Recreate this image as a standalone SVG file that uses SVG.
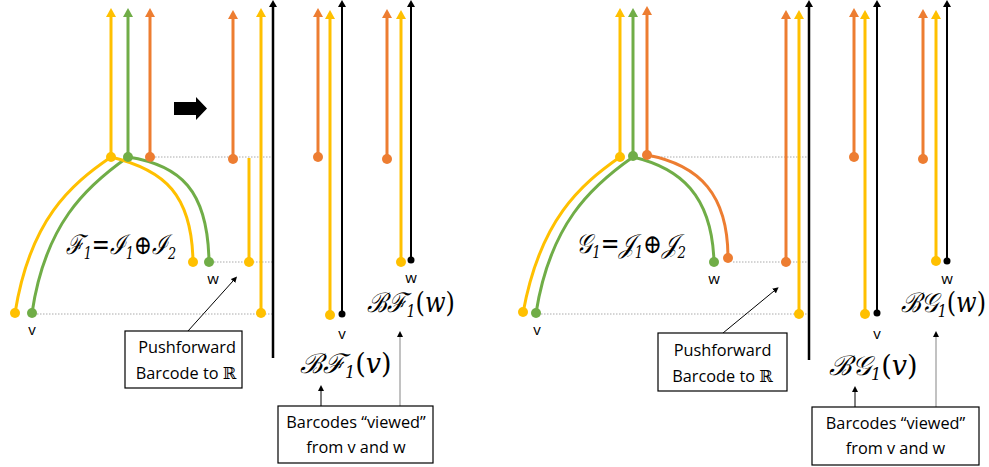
<svg xmlns="http://www.w3.org/2000/svg" width="989" height="467" viewBox="0 0 989 467">
<style>
.y{stroke:#FFC000;stroke-width:3;fill:none}
.g{stroke:#70AD47;stroke-width:3;fill:none}
.o{stroke:#ED7D31;stroke-width:3;fill:none}
.k{stroke:#000;stroke-width:2;fill:none}
.kk{stroke:#000;stroke-width:2.5;fill:none}
.dy{fill:#FFC000}.dg{fill:#70AD47}.do{fill:#ED7D31}.dk{fill:#000}
.dot{stroke:#aaa;stroke-width:1;stroke-dasharray:1.5 1.5;fill:none}
.lbl{font-family:"Open Sans","DejaVu Sans",sans-serif;font-size:15px;fill:#000;text-anchor:middle}
.box{fill:#fff;stroke:#000;stroke-width:1.2}
.bt{font-family:"Open Sans","DejaVu Sans",sans-serif;font-size:16.3px;fill:#000;text-anchor:middle}
.rr{font-family:"DejaVu Serif",serif}
.m{font-family:"DejaVu Serif","Liberation Serif",serif;font-style:italic;font-size:27px;fill:#000}
.sub{font-size:16px}
.cl{stroke:#000;stroke-width:1;fill:none}
.cg{stroke:#999;stroke-width:1.2;fill:none}
</style>
<defs>
<marker id="ay" viewBox="0 -5 9 10" refX="0" refY="0" markerWidth="9" markerHeight="10" markerUnits="userSpaceOnUse" orient="auto"><path d="M0,-5 L9,0 L0,5 z" fill="#FFC000"/></marker>
<marker id="ag" viewBox="0 -5 9 10" refX="0" refY="0" markerWidth="9" markerHeight="10" markerUnits="userSpaceOnUse" orient="auto"><path d="M0,-5 L9,0 L0,5 z" fill="#70AD47"/></marker>
<marker id="ao" viewBox="0 -5 9 10" refX="0" refY="0" markerWidth="9" markerHeight="10" markerUnits="userSpaceOnUse" orient="auto"><path d="M0,-5 L9,0 L0,5 z" fill="#ED7D31"/></marker>
<marker id="ak" viewBox="0 -4 7 8" refX="0" refY="0" markerWidth="7" markerHeight="8" markerUnits="userSpaceOnUse" orient="auto"><path d="M0,-4 L7,0 L0,4 z" fill="#000"/></marker>
<marker id="as" viewBox="0 -3 6 6" refX="0" refY="0" markerWidth="6" markerHeight="6" markerUnits="userSpaceOnUse" orient="auto"><path d="M0,-3 L6,0 L0,3 z" fill="#000"/></marker>
</defs>

<g id="guides">
<line class="dot" x1="155" y1="157" x2="273" y2="157"/>
<line class="dot" x1="214" y1="262" x2="273" y2="262"/>
<line class="dot" x1="37" y1="314" x2="273" y2="314"/>
<line class="dot" x1="652" y1="157" x2="809" y2="157"/>
<line class="dot" x1="733" y1="262" x2="809" y2="262"/>
<line class="dot" x1="541" y1="314" x2="809" y2="314"/>
</g>

<g id="left-tree">
<path class="y" d="M111,157 C70,185 30,220 15,313"/>
<path class="g" d="M128,157 C85,187 45,225 32,313"/>
<path class="y" d="M111,157 C165,170 192,195 193,262"/>
<path class="g" d="M128,157 C180,165 208,190 209,262"/>
<line class="y" x1="111" y1="157" x2="111" y2="17" marker-end="url(#ay)"/>
<line class="g" x1="128" y1="157" x2="128" y2="17" marker-end="url(#ag)"/>
<line class="o" x1="150" y1="157" x2="150" y2="17" marker-end="url(#ao)"/>
<circle class="dy" cx="111" cy="157" r="5"/>
<circle class="dg" cx="128" cy="157" r="5"/>
<circle class="do" cx="150" cy="157" r="5"/>
<circle class="dy" cx="15" cy="313" r="5"/>
<circle class="dg" cx="32" cy="313" r="5"/>
<circle class="dy" cx="193" cy="262" r="5"/>
<circle class="dg" cx="209" cy="262" r="5"/>
<text class="lbl" x="32" y="335">v</text>
<text class="lbl" x="213" y="284">w</text>
<text class="m" transform="translate(66,254) scale(0.8,1)" x="0" y="0">ℱ<tspan class="sub" dy="5">1</tspan><tspan dy="-5">=ℐ</tspan><tspan class="sub" dy="5">1</tspan><tspan dy="-5" font-style="normal">⊕</tspan><tspan>ℐ</tspan><tspan class="sub" dy="5">2</tspan></text>
</g>

<g id="block-arrow">
<path d="M174,102 L196,102 L196,97 L207,108.5 L196,120 L196,115 L174,115 z" fill="#000"/>
</g>

<g id="left-pushforward">
<line class="o" x1="233" y1="159" x2="233" y2="19" marker-end="url(#ao)"/>
<circle class="do" cx="233" cy="159" r="5"/>
<line class="y" x1="249" y1="158" x2="249" y2="262"/>
<circle class="dy" cx="249" cy="262" r="5"/>
<line class="y" x1="261" y1="313" x2="261" y2="17" marker-end="url(#ay)"/>
<circle class="dy" cx="261" cy="313" r="5"/>
<line class="kk" x1="273" y1="358" x2="273" y2="7" marker-end="url(#ak)"/>
</g>

<g id="left-bar-v">
<line class="o" x1="318" y1="157" x2="318" y2="17" marker-end="url(#ao)"/>
<circle class="do" cx="318" cy="157" r="5"/>
<line class="y" x1="330" y1="315" x2="330" y2="19" marker-end="url(#ay)"/>
<circle class="dy" cx="330" cy="315" r="5"/>
<line class="k" x1="342" y1="314" x2="342" y2="7" marker-end="url(#ak)"/>
<circle class="dk" cx="342" cy="314" r="3.5"/>
<text class="lbl" x="342" y="339">v</text>
<text class="m" x="300" y="373">ℬℱ<tspan class="sub" dy="5">1</tspan><tspan dy="-5" font-style="normal">(</tspan><tspan>v</tspan><tspan font-style="normal">)</tspan></text>
</g>

<g id="left-bar-w">
<line class="o" x1="387" y1="159" x2="387" y2="18" marker-end="url(#ao)"/>
<circle class="do" cx="387" cy="159" r="5"/>
<line class="y" x1="401" y1="262" x2="401" y2="19" marker-end="url(#ay)"/>
<circle class="dy" cx="401" cy="262" r="5"/>
<line class="k" x1="411" y1="260" x2="411" y2="7" marker-end="url(#ak)"/>
<circle class="dk" cx="411" cy="260" r="3.5"/>
<text class="lbl" x="411" y="283">w</text>
<text class="m" transform="translate(367,312) scale(0.89,1)" x="0" y="0">ℬℱ<tspan class="sub" dy="5">1</tspan><tspan dy="-5" font-style="normal">(</tspan><tspan>w</tspan><tspan font-style="normal">)</tspan></text>
</g>

<g id="right-tree">
<path class="y" d="M620,157 C580,185 540,220 523,313"/>
<path class="g" d="M633,157 C590,187 550,225 536,313"/>
<path class="g" d="M633,157 C680,168 712,195 714,262"/>
<path class="o" d="M647,155 C700,165 728,195 728,258"/>
<line class="y" x1="620" y1="157" x2="620" y2="17" marker-end="url(#ay)"/>
<line class="g" x1="633" y1="156" x2="633" y2="17" marker-end="url(#ag)"/>
<line class="o" x1="647" y1="155" x2="647" y2="15" marker-end="url(#ao)"/>
<circle class="dy" cx="620" cy="157" r="5"/>
<circle class="dg" cx="633" cy="156" r="5"/>
<circle class="do" cx="647" cy="155" r="5"/>
<circle class="dy" cx="523" cy="312" r="5"/>
<circle class="dg" cx="536" cy="313" r="5"/>
<circle class="dg" cx="714" cy="262" r="5"/>
<circle class="do" cx="728" cy="258" r="5"/>
<text class="lbl" x="537" y="335">v</text>
<text class="lbl" x="714" y="284">w</text>
<text class="m" transform="translate(576,253) scale(0.83,1)" x="0" y="0">𝒢<tspan class="sub" dy="5">1</tspan><tspan dy="-5">=𝒥</tspan><tspan class="sub" dy="5">1</tspan><tspan dy="-5" font-style="normal">⊕</tspan><tspan>𝒥</tspan><tspan class="sub" dy="5">2</tspan></text>
</g>

<g id="right-pushforward">
<line class="o" x1="786" y1="262" x2="786" y2="19" marker-end="url(#ao)"/>
<circle class="do" cx="786" cy="262" r="5"/>
<line class="y" x1="799" y1="314" x2="799" y2="19" marker-end="url(#ay)"/>
<circle class="dy" cx="799" cy="314" r="5"/>
<line class="kk" x1="809" y1="360" x2="809" y2="7" marker-end="url(#ak)"/>
</g>

<g id="right-bar-v">
<line class="o" x1="854" y1="157" x2="854" y2="17" marker-end="url(#ao)"/>
<circle class="do" cx="854" cy="157" r="5"/>
<line class="y" x1="865" y1="314" x2="865" y2="19" marker-end="url(#ay)"/>
<circle class="dy" cx="865" cy="314" r="5"/>
<line class="k" x1="877" y1="313" x2="877" y2="7" marker-end="url(#ak)"/>
<circle class="dk" cx="877" cy="313" r="3.5"/>
<text class="lbl" x="877" y="339">v</text>
<text class="m" x="829" y="375">ℬ𝒢<tspan class="sub" dy="5">1</tspan><tspan dy="-5" font-style="normal">(</tspan><tspan>v</tspan><tspan font-style="normal">)</tspan></text>
</g>

<g id="right-bar-w">
<line class="o" x1="923" y1="159" x2="923" y2="18" marker-end="url(#ao)"/>
<circle class="do" cx="923" cy="159" r="5"/>
<line class="y" x1="936" y1="261" x2="936" y2="19" marker-end="url(#ay)"/>
<circle class="dy" cx="936" cy="261" r="5"/>
<line class="k" x1="947" y1="261" x2="947" y2="7" marker-end="url(#ak)"/>
<circle class="dk" cx="947" cy="261" r="3.5"/>
<text class="lbl" x="947" y="284">w</text>
<text class="m" transform="translate(901,312) scale(0.89,1)" x="0" y="0">ℬ𝒢<tspan class="sub" dy="5">1</tspan><tspan dy="-5" font-style="normal">(</tspan><tspan>w</tspan><tspan font-style="normal">)</tspan></text>
</g>

<g id="callouts">
<line class="cl" x1="188" y1="331" x2="233" y2="281" marker-end="url(#as)"/>
<line class="cl" x1="321" y1="406" x2="321" y2="391" marker-end="url(#as)"/>
<line class="cg" x1="400" y1="406" x2="400" y2="337" marker-end="url(#as)"/>
<line class="cl" x1="723" y1="333" x2="774" y2="291" marker-end="url(#as)"/>
<line class="cl" x1="855" y1="407" x2="855" y2="392" marker-end="url(#as)"/>
<line class="cg" x1="936" y1="407" x2="936" y2="337" marker-end="url(#as)"/>
</g>

<g id="box-pushforward-left">
<rect class="box" x="125" y="331" width="117" height="57"/>
<text class="bt" x="187" y="353">Pushforward</text>
<text class="bt" x="186" y="379">Barcode to <tspan class="rr">ℝ</tspan></text>
</g>
<g id="box-viewed-left">
<rect class="box" x="278" y="406" width="155" height="57"/>
<text class="bt" x="356" y="428">Barcodes “viewed”</text>
<text class="bt" x="356" y="453">from v and w</text>
</g>
<g id="box-pushforward-right">
<rect class="box" x="658" y="333" width="129" height="58"/>
<text class="bt" x="722.5" y="356">Pushforward</text>
<text class="bt" x="722.5" y="382">Barcode to <tspan class="rr">ℝ</tspan></text>
</g>
<g id="box-viewed-right">
<rect class="box" x="812" y="407" width="167" height="58"/>
<text class="bt" x="895.5" y="429">Barcodes “viewed”</text>
<text class="bt" x="895.5" y="454">from v and w</text>
</g>
</svg>
